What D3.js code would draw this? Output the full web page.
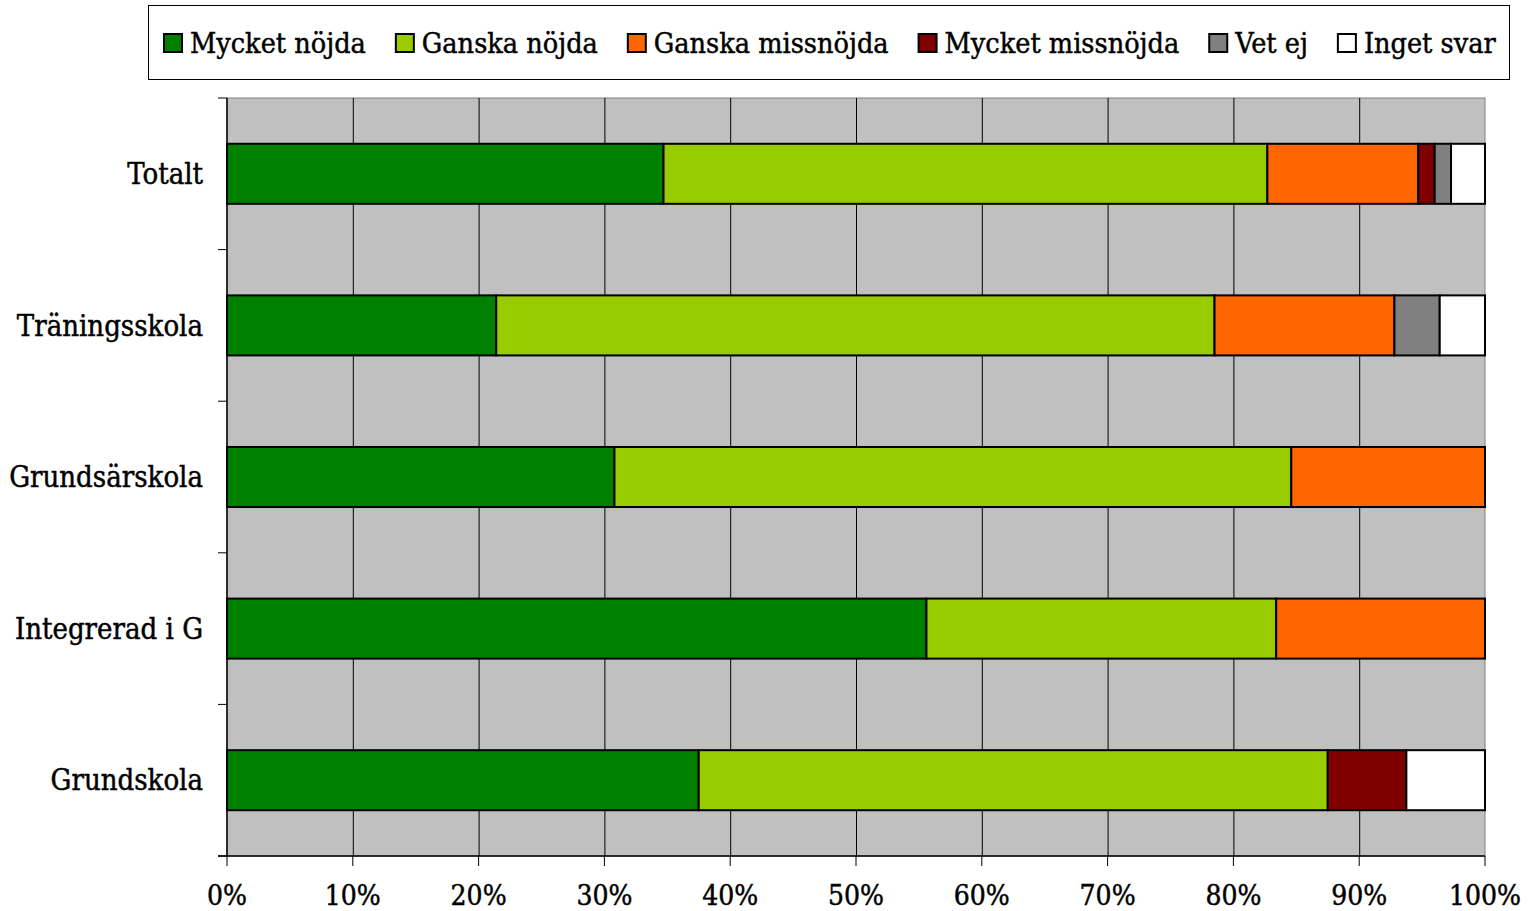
<!DOCTYPE html>
<html lang="sv">
<head>
<meta charset="UTF-8">
<title>Nöjdhet per skolform</title>
<script src="https://cdn.jsdelivr.net/npm/d3@7"></script>
<style>
  body { margin: 0; background: #fff; }
  text { font-family: "DejaVu Serif Condensed", "DejaVu Serif", serif; fill: #000; stroke: #000; stroke-width: 0.45px; }
</style>
</head>
<body>
<svg id="chart" width="1529" height="911"></svg>
<script>
// categories top to bottom
let categories = ["Totalt", "Träningsskola", "Grundsärskola", "Integrerad i G", "Grundskola"]
let series = ["Mycket nöjda", "Ganska nöjda", "Ganska missnöjda", "Mycket missnöjda", "Vet ej", "Inget svar"]
let colors = ["#008000", "#99cc00", "#ff6600", "#800000", "#808080", "#ffffff"]

// percent per series, in category order
let mycketNojda     = [34.7, 21.4, 30.8, 55.6, 37.5]
let ganskaNojda     = [48.0, 57.1, 53.8, 27.8, 50.0]
let ganskaMissnojda = [12.0, 14.3, 15.4, 16.6, 0]
let mycketMissnojda = [1.3, 0, 0, 0, 6.25]
let vetEj           = [1.3, 3.6, 0, 0, 0]
let ingetSvar       = [2.7, 3.6, 0, 0, 6.25]

let xTicks = [0, 10, 20, 30, 40, 50, 60, 70, 80, 90, 100]

let values = [mycketNojda, ganskaNojda, ganskaMissnojda, mycketMissnojda, vetEj, ingetSvar]
let rows = categories.map(function (c, i) {
    let r = { cat: c }
    series.forEach(function (s, j) { r[s] = values[j][i] })
    return r
})
let stacked = d3.stack().keys(series)(rows)

let svg = d3.select("#chart")
let pLeft = 227, pRight = 1485, pTop = 98, pBottom = 856

let x = d3.scaleLinear().domain([0, 100]).range([pLeft, pRight])
let y = d3.scaleBand().domain(categories).range([pTop, pBottom]).paddingInner(0.604).paddingOuter(0.302)
let yEdges = d3.scaleBand().domain(categories).range([pTop, pBottom])

// plot background
svg.append("rect")
    .attr("x", pLeft).attr("y", pTop)
    .attr("width", pRight - pLeft).attr("height", pBottom - pTop)
    .attr("fill", "#c0c0c0")
    .attr("stroke", "#808080").attr("stroke-width", 1)

// vertical gridlines
svg.append("g").selectAll("line")
    .data(xTicks.slice(1, -1))
    .join("line")
    .attr("x1", d => x(d) + 0.5).attr("x2", d => x(d) + 0.5)
    .attr("y1", pTop).attr("y2", pBottom)
    .attr("stroke", "#000").attr("stroke-width", 1)

// bars
svg.append("g").selectAll("g")
    .data(stacked)
    .join("g")
    .attr("fill", (d, i) => colors[i])
    .selectAll("rect")
    .data(d => d.filter(p => p[1] - p[0] > 0))
    .join("rect")
    .attr("x", d => x(d[0]))
    .attr("y", d => y(d.data.cat))
    .attr("width", d => x(d[1]) - x(d[0]))
    .attr("height", y.bandwidth())
    .attr("stroke", "#000").attr("stroke-width", 2)

// y axis
svg.append("line")
    .attr("x1", pLeft).attr("x2", pLeft).attr("y1", pTop).attr("y2", pBottom)
    .attr("stroke", "#000").attr("stroke-width", 1.5)
let yTickPos = categories.map(c => yEdges(c)).concat([pBottom])
svg.append("g").selectAll("line")
    .data(yTickPos)
    .join("line")
    .attr("x1", pLeft - 9).attr("x2", pLeft)
    .attr("y1", d => d).attr("y2", d => d)
    .attr("stroke", "#000").attr("stroke-width", 1)
svg.append("g").selectAll("text")
    .data(categories)
    .join("text")
    .attr("x", 203)
    .attr("y", d => y(d) + y.bandwidth() / 2)
    .attr("dy", "0.35em")
    .attr("text-anchor", "end")
    .attr("font-size", 29)
    .text(d => d)

// x axis
svg.append("line")
    .attr("x1", pLeft - 9).attr("x2", pRight).attr("y1", pBottom).attr("y2", pBottom)
    .attr("stroke", "#000").attr("stroke-width", 1.5)
svg.append("g").selectAll("line")
    .data(xTicks)
    .join("line")
    .attr("x1", d => x(d)).attr("x2", d => x(d))
    .attr("y1", pBottom).attr("y2", pBottom + 10)
    .attr("stroke", "#000").attr("stroke-width", 1)
svg.append("g").selectAll("text")
    .data(xTicks)
    .join("text")
    .attr("x", d => x(d))
    .attr("y", 905)
    .attr("text-anchor", "middle")
    .attr("font-size", 28)
    .text(d => d + "%")

// legend
svg.append("rect")
    .attr("x", 148.5).attr("y", 5.5).attr("width", 1361).attr("height", 74)
    .attr("fill", "#fff").attr("stroke", "#000").attr("stroke-width", 1)
let lg = svg.append("g")
let lx = 164
series.forEach(function (s, i) {
    lg.append("rect")
        .attr("x", lx).attr("y", 34).attr("width", 18).attr("height", 18)
        .attr("fill", colors[i]).attr("stroke", "#000").attr("stroke-width", 2)
    let t = lg.append("text")
        .attr("x", lx + 26).attr("y", 53)
        .attr("font-size", 28.5)
        .text(s)
    lx += 26 + t.node().getComputedTextLength() + 30
})
</script>
</body>
</html>
